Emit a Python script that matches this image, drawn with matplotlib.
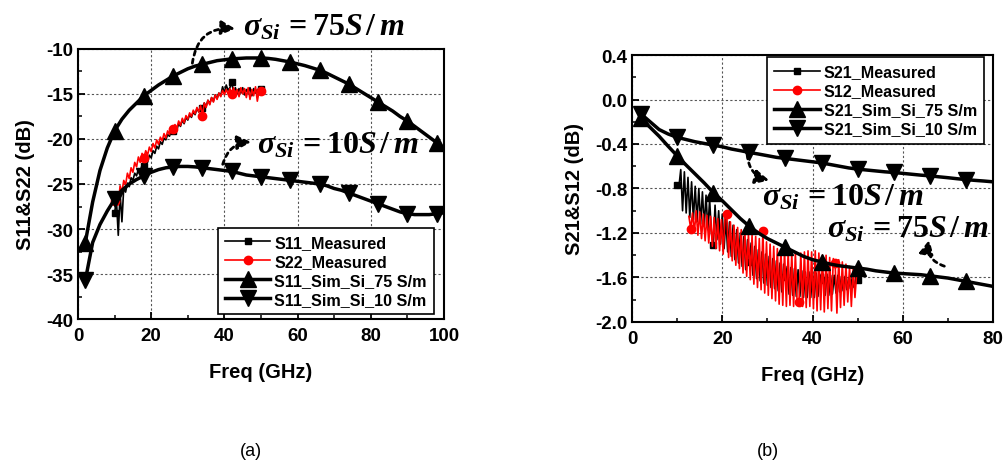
import numpy as np
import matplotlib
matplotlib.use('Agg')
import matplotlib.pyplot as plt
from matplotlib.ticker import MultipleLocator, FormatStrFormatter

plt.rcParams['font.family'] = ['Liberation Sans', 'DejaVu Sans']
plt.rcParams['font.weight'] = 'bold'
plt.rcParams['axes.unicode_minus'] = False
plt.rcParams['mathtext.fontset'] = 'custom'
plt.rcParams['mathtext.it'] = 'Liberation Serif:italic:bold'
plt.rcParams['mathtext.rm'] = 'Liberation Serif:bold'
plt.rcParams['mathtext.bf'] = 'Liberation Serif:bold'

# ---------------- (a) reflection ----------------
# simulated curves, 2 GHz steps from 2 to 100 GHz
sim_freq_a = list(range(2, 101, 2))
s11_sim_75 = [-31.5, -27.0, -23.5, -21.0, -19.1, -17.8, -16.8, -16.0, -15.2, -14.6,
              -14.0, -13.5, -13.0, -12.6, -12.2, -11.9, -11.7, -11.5, -11.3, -11.2,
              -11.1, -11.05, -11.0, -11.0, -11.0, -11.05, -11.15, -11.3, -11.45, -11.65,
              -11.85, -12.1, -12.35, -12.7, -13.1, -13.5, -13.9, -14.4, -14.9, -15.4,
              -15.9, -16.4, -16.9, -17.5, -18.0, -18.6, -19.2, -19.8, -20.4, -21.0]
s11_sim_10 = [-35.7, -31.5, -29.5, -28.0, -26.7, -25.7, -25.0, -24.5, -24.1, -23.7,
              -23.4, -23.2, -23.1, -23.05, -23.05, -23.1, -23.2, -23.3, -23.4, -23.5,
              -23.6, -23.8, -24.0, -24.1, -24.2, -24.3, -24.4, -24.5, -24.6, -24.7,
              -24.8, -24.9, -25.0, -25.2, -25.5, -25.7, -26.0, -26.3, -26.6, -26.9,
              -27.2, -27.5, -27.8, -28.1, -28.3, -28.4, -28.4, -28.4, -28.3, -28.2]

# measured, 0.5 GHz steps from 10 to 50 GHz
meas_freq_a = [10 + 0.5 * i for i in range(81)]
s11_meas = [-28.2, -26.8, -30.7, -26.0, -29.2, -25.4, -25.9, -24.9, -25.3, -24.3,
            -24.6, -23.8, -24.1, -23.3, -23.6, -22.9, -23.0, -22.4, -22.6, -21.8,
            -22.1, -21.3, -21.6, -20.8, -21.1, -20.3, -20.6, -19.9, -20.1, -19.5,
            -19.7, -19.0, -19.1, -18.7, -19.0, -18.3, -18.6, -17.9, -18.3, -17.6,
            -17.9, -17.3, -17.6, -17.0, -17.3, -16.6, -17.0, -16.3, -16.6, -16.0,
            -16.4, -15.7, -16.1, -15.4, -15.8, -15.1, -15.5, -14.9, -15.2, -14.2,
            -14.9, -14.0, -14.6, -14.3, -13.7, -14.8, -14.3, -15.0, -14.4, -14.9,
            -14.3, -15.1, -14.5, -14.9, -14.3, -15.2, -14.4, -14.9, -14.5, -14.8,
            -14.4]
s22_meas = [-26.9, -26.0, -27.3, -25.2, -25.9, -24.6, -25.1, -23.8, -24.4, -23.2,
            -23.7, -22.6, -23.1, -22.0, -22.6, -21.6, -22.1, -21.3, -21.8, -20.9,
            -21.4, -20.5, -21.0, -20.1, -20.6, -19.8, -20.2, -19.4, -19.9, -19.1,
            -19.5, -18.7, -18.9, -18.4, -18.8, -18.0, -18.5, -17.7, -18.2, -17.4,
            -17.8, -17.1, -17.5, -16.8, -17.2, -16.5, -17.0, -16.3, -17.4, -16.0,
            -16.5, -15.7, -16.2, -15.4, -15.9, -15.1, -15.6, -14.9, -15.3, -14.6,
            -15.1, -14.5, -15.0, -14.4, -15.0, -14.3, -15.1, -14.5, -15.3, -14.3,
            -15.0, -14.4, -15.4, -14.3, -15.6, -14.5, -15.2, -14.2, -15.8, -14.6,
            -14.7]

# ---------------- (b) transmission ----------------
sim_freq_b = list(range(2, 81, 2))
s21_sim_75 = [-0.17, -0.25, -0.33, -0.42, -0.506, -0.59, -0.67, -0.75, -0.836, -0.91,
              -0.99, -1.07, -1.14, -1.20, -1.25, -1.29, -1.33, -1.37, -1.41, -1.44,
              -1.46, -1.48, -1.495, -1.505, -1.515, -1.525, -1.54, -1.55, -1.56, -1.565,
              -1.57, -1.575, -1.585, -1.595, -1.605, -1.62, -1.635, -1.65, -1.665, -1.68]
s21_sim_10 = [-0.13, -0.20, -0.27, -0.31, -0.34, -0.36, -0.38, -0.395, -0.41, -0.425,
              -0.445, -0.46, -0.476, -0.49, -0.505, -0.52, -0.53, -0.54, -0.55, -0.56,
              -0.57, -0.585, -0.60, -0.615, -0.626, -0.634, -0.642, -0.65, -0.656, -0.664,
              -0.672, -0.68, -0.686, -0.695, -0.703, -0.712, -0.72, -0.727, -0.733, -0.74]

s21_freq = [10 + 0.4 * i for i in range(101)]
s21_meas = [-0.77, -0.78, -0.63, -1.00, -0.65, -1.02, -0.70, -1.06, -0.74, -1.08,
            -0.78, -1.10, -0.80, -1.12, -0.83, -1.14, -0.86, -1.17, -0.90, -1.20,
            -1.31, -0.95, -1.26, -1.00, -1.30, -1.03, -1.34, -1.07, -1.37, -1.10,
            -1.41, -1.13, -1.44, -1.17, -1.47, -1.20, -1.50, -1.23, -1.53, -1.26,
            -1.46, -1.29, -1.58, -1.32, -1.61, -1.35, -1.63, -1.37, -1.65, -1.39,
            -1.67, -1.41, -1.69, -1.43, -1.70, -1.45, -1.72, -1.47, -1.73, -1.48,
            -1.60, -1.50, -1.75, -1.51, -1.76, -1.52, -1.77, -1.53, -1.77, -1.54,
            -1.78, -1.55, -1.78, -1.55, -1.78, -1.56, -1.78, -1.56, -1.77, -1.57,
            -1.62, -1.57, -1.76, -1.57, -1.76, -1.58, -1.75, -1.58, -1.74, -1.58,
            -1.73, -1.59, -1.72, -1.59, -1.71, -1.60, -1.70, -1.60, -1.69, -1.61,
            -1.62]
s12_freq = [12.6 + 0.4 * i for i in range(94)]
s12_meas = [-1.05, -1.16, -1.02, -1.20, -1.00, -1.22, -1.01, -1.25, -1.03, -1.27,
            -1.04, -1.29, -1.05, -1.32, -1.06, -1.34, -1.07, -1.36, -1.08, -1.39,
            -1.06, -1.03, -1.42, -1.10, -1.45, -1.13, -1.49, -1.15, -1.52, -1.17,
            -1.56, -1.19, -1.59, -1.21, -1.62, -1.22, -1.66, -1.23, -1.69, -1.25,
            -1.71, -1.18, -1.74, -1.28, -1.76, -1.30, -1.79, -1.32, -1.81, -1.34,
            -1.84, -1.35, -1.85, -1.36, -1.86, -1.37, -1.85, -1.38, -1.86, -1.38,
            -1.84, -1.82, -1.38, -1.86, -1.37, -1.87, -1.36, -1.86, -1.37, -1.88,
            -1.36, -1.90, -1.38, -1.89, -1.40, -1.91, -1.40, -1.88, -1.42, -1.90,
            -1.43, -1.47, -1.92, -1.44, -1.87, -1.46, -1.85, -1.48, -1.82, -1.50,
            -1.86, -1.52, -1.78, -1.55]

fig = plt.figure(figsize=(10.04, 4.64), dpi=100)
ax1 = fig.add_axes([0.0777, 0.3103, 0.3645, 0.582])
ax2 = fig.add_axes([0.6295, 0.3039, 0.3596, 0.5754])

tick_fs = 13.5
label_fs = 14.5
legend_fs = 11.6
meas_lw = 1.2


def style_axes(ax):
    ax.grid(True, which='major', color='#555555', linestyle=(0, (2, 2)), linewidth=0.8)
    ax.set_axisbelow(True)
    for sp in ax.spines.values():
        sp.set_linewidth(1.5)
    ax.tick_params(which='major', direction='in', length=5, width=1.3, labelsize=tick_fs,
                   top=False, right=False)
    ax.tick_params(axis='x', which='major', pad=6)
    ax.tick_params(which='minor', direction='in', length=3, width=1.1, top=False, right=False)
    for lab in ax.get_xticklabels() + ax.get_yticklabels():
        lab.set_fontweight('bold')


def add_legend(ax, **kw):
    leg = ax.legend(prop={'weight': 'bold', 'size': legend_fs}, fancybox=False,
                    edgecolor='black', framealpha=1, borderpad=0.45, labelspacing=0.25,
                    handlelength=2.8, handletextpad=0.25, borderaxespad=0, **kw)
    leg.get_frame().set_linewidth(1.2)
    return leg


# ---- (a)
ax1.plot(meas_freq_a, s11_meas, color='black', lw=meas_lw, marker='s', ms=5, markevery=16,
         label='S11_Measured')
ax1.plot(meas_freq_a, s22_meas, color='red', lw=meas_lw, marker='o', ms=6, markevery=16,
         label='S22_Measured')
ax1.plot(sim_freq_a, s11_sim_75, color='black', lw=2.5, marker='^', ms=11, markevery=4,
         label='S11_Sim_Si_75 S/m')
ax1.plot(sim_freq_a, s11_sim_10, color='black', lw=2.5, marker='v', ms=11, markevery=4,
         label='S11_Sim_Si_10 S/m')
ax1.set_xlim(0, 100)
ax1.set_ylim(-40, -10)
ax1.xaxis.set_major_locator(MultipleLocator(20))
ax1.xaxis.set_minor_locator(MultipleLocator(10))
ax1.yaxis.set_major_locator(MultipleLocator(5))
ax1.yaxis.set_minor_locator(MultipleLocator(2.5))
style_axes(ax1)
ax1.set_xlabel('Freq (GHz)', fontsize=label_fs, fontweight='bold', labelpad=13)
ax1.set_ylabel('S11&S22 (dB)', fontsize=label_fs, fontweight='bold', labelpad=8)
add_legend(ax1, loc='lower right', bbox_to_anchor=(0.973, 0.018))

# ---- (b)
ax2.plot(s21_freq, s21_meas, color='black', lw=meas_lw, marker='s', ms=5, markevery=20,
         label='S21_Measured')
ax2.plot(s12_freq, s12_meas, color='red', lw=meas_lw, marker='o', ms=6, markevery=(1, 20),
         label='S12_Measured')
ax2.plot(sim_freq_b, s21_sim_75, color='black', lw=2.5, marker='^', ms=11, markevery=4,
         label='S21_Sim_Si_75 S/m')
ax2.plot(sim_freq_b, s21_sim_10, color='black', lw=2.5, marker='v', ms=11, markevery=4,
         label='S21_Sim_Si_10 S/m')
ax2.set_xlim(0, 80)
ax2.set_ylim(-2.0, 0.4)
ax2.xaxis.set_major_locator(MultipleLocator(20))
ax2.xaxis.set_minor_locator(MultipleLocator(10))
ax2.yaxis.set_major_locator(MultipleLocator(0.4))
ax2.yaxis.set_minor_locator(MultipleLocator(0.2))
ax2.yaxis.set_major_formatter(FormatStrFormatter('%.1f'))
style_axes(ax2)
ax2.set_xlabel('Freq (GHz)', fontsize=label_fs, fontweight='bold', labelpad=13)
ax2.set_ylabel('S21&S12 (dB)', fontsize=label_fs, fontweight='bold', labelpad=8)
add_legend(ax2, loc='upper right', bbox_to_anchor=(0.975, 0.992))

# ---- sigma annotations
sig_fs = 23
ax1.text(45, -7.55, r'$\sigma_{Si}\,=75S\,/\,m$', fontsize=sig_fs, va='center', ha='left',
         clip_on=False)
ax1.text(48.9, -20.6, r'$\sigma_{Si}\,=10S\,/\,m$', fontsize=sig_fs, va='center', ha='left')
ax2.text(28.8, -0.87, r'$\sigma_{Si}\,=10S\,/\,m$', fontsize=sig_fs, va='center', ha='left')
ax2.text(43.2, -1.164, r'$\sigma_{Si}\,=75S\,/\,m$', fontsize=sig_fs, va='center', ha='left')

arrow_kw = dict(arrowstyle='-|>,head_length=0.6,head_width=0.3', color='black', lw=2,
                linestyle=(0, (1.5, 1.5)))
arrows = [((192, 397), (238, 434), -0.5),
          ((222, 296), (254, 321), -0.4),
          ((747, 311), (772, 282), 0.4),
          ((947, 196), (930, 226), -0.5)]
for start, end, rad in arrows:
    fig.add_artist(matplotlib.patches.FancyArrowPatch(
        start, end, transform=None, connectionstyle=f'arc3,rad={rad}',
        mutation_scale=14, **arrow_kw))

fig.text(251 / 1004, 1 - 452 / 464, '(a)', fontsize=13, fontweight='normal',
         ha='center', va='center')
fig.text(768 / 1004, 1 - 452 / 464, '(b)', fontsize=13, fontweight='normal',
         ha='center', va='center')

fig.savefig('out.png', dpi=100)
